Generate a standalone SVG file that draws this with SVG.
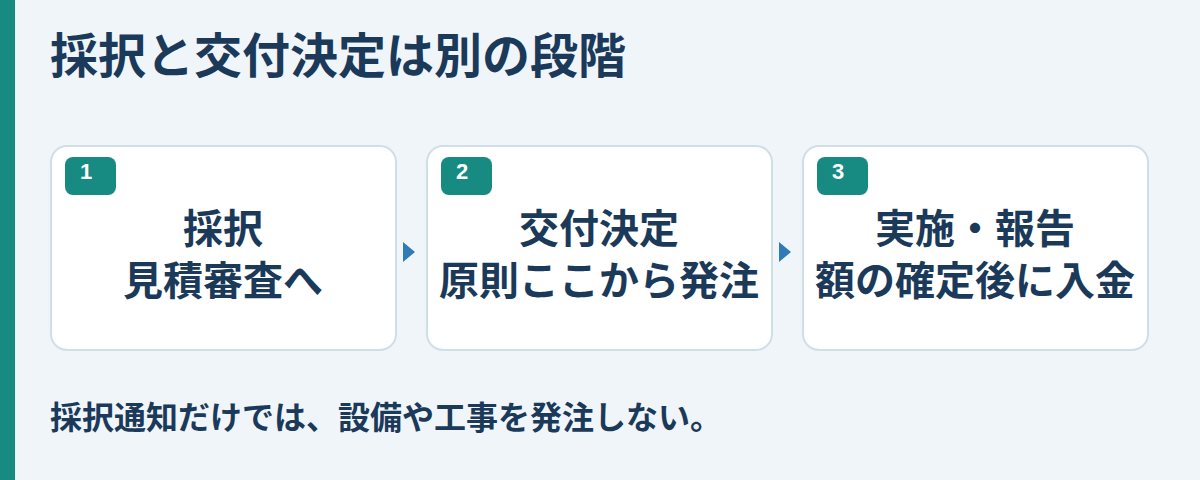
<svg xmlns="http://www.w3.org/2000/svg" width="1200" height="480" viewBox="0 0 1200 480">
<style>
.t{font-family:"Noto Sans CJK JP","Noto Sans",sans-serif;font-weight:700;fill:#1b3a5a}
.card{fill:#ffffff;stroke:#cfdfe6;stroke-width:2}
.badge{fill:#178a82}
.num{font-family:"Liberation Sans","Noto Sans",sans-serif;font-weight:700;font-size:22px;fill:#ffffff}
.lbl{font-size:40px;text-anchor:middle}
.arr{fill:#2f7bb8}
</style>
<rect x="0" y="0" width="1200" height="480" fill="#f0f5fa"/>
<rect x="0" y="0" width="15" height="480" fill="#178a82"/>
<text class="t" x="50" y="73" font-size="48">採択と交付決定は別の段階</text>
<g id="node1">
<rect class="card" x="51" y="146" width="345" height="204" rx="16"/>
<rect class="badge" x="65" y="157" width="51" height="38" rx="8"/>
<text class="num" x="80" y="179">1</text>
<text class="t lbl" x="223" y="243"><tspan x="223">採択</tspan><tspan x="223" dy="52">見積審査へ</tspan></text>
</g>
<g id="node2">
<rect class="card" x="427" y="146" width="345" height="204" rx="16"/>
<rect class="badge" x="441" y="157" width="51" height="38" rx="8"/>
<text class="num" x="456" y="179">2</text>
<text class="t lbl" x="599" y="243"><tspan x="599">交付決定</tspan><tspan x="599" dy="52">原則ここから発注</tspan></text>
</g>
<g id="node3">
<rect class="card" x="803" y="146" width="345" height="204" rx="16"/>
<rect class="badge" x="817" y="157" width="51" height="38" rx="8"/>
<text class="num" x="832" y="179">3</text>
<text class="t lbl" x="975" y="243"><tspan x="975">実施・報告</tspan><tspan x="975" dy="52">額の確定後に入金</tspan></text>
</g>
<g id="connectors">
<polygon class="arr" points="403,242 415,252 403,262"/>
<polygon class="arr" points="779,242 791,252 779,262"/>
</g>
<text class="t" x="50" y="429" font-size="32">採択通知だけでは、設備や工事を発注しない。</text>
</svg>
